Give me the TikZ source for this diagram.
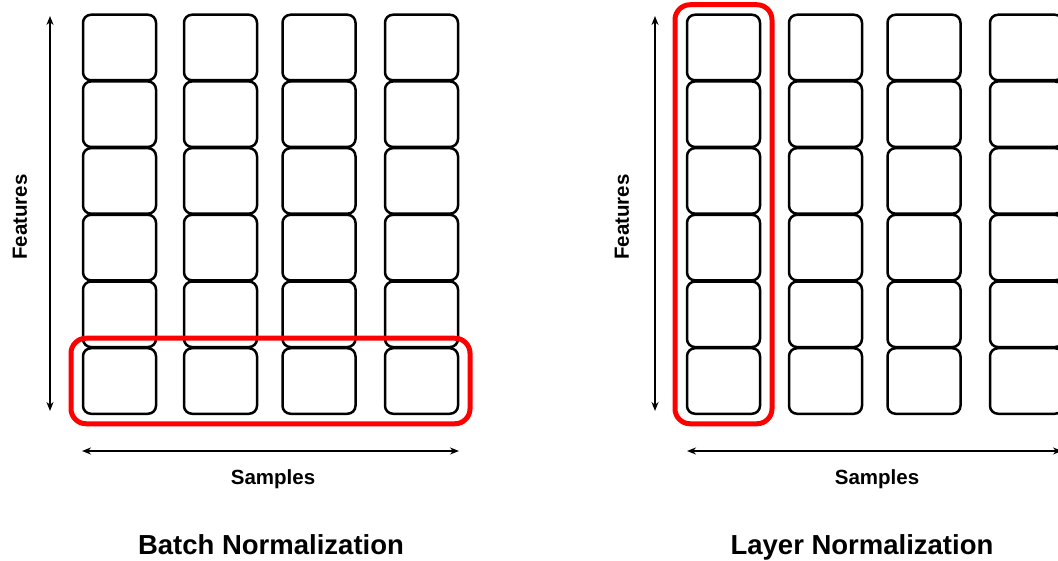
\documentclass[tikz,border=0pt]{standalone}
\usepackage{fontspec}
\setmainfont{Liberation Sans}
\usetikzlibrary{arrows.meta,fit}
\tikzset{
  cell/.style={draw, line width=2.5pt, rounded corners=8pt,
    minimum width=73pt, minimum height=65.5pt, inner sep=0pt, outer sep=0pt},
  redbox/.style={draw=red, line width=5pt, rounded corners=15pt,
    inner xsep=12pt, inner ysep=10pt},
  axis/.style={line width=2pt, {Stealth[length=9pt,width=7pt]}-{Stealth[length=9pt,width=7pt]}},
  lbl/.style={font=\bfseries\fontsize{20.5}{24}\selectfont},
  title/.style={font=\bfseries\fontsize{27.5}{31}\selectfont, anchor=base}
}
\begin{document}
\begin{tikzpicture}[x=1pt,y=-1pt]
  \useasboundingbox (0,0) rectangle (1058,561);
  \clip (0,0) rectangle (1058,561);
  % batch normalization
  \foreach \c/\cx in {1/119.5,2/220.5,3/319,4/421.5}
    \foreach \r in {1,...,6}
      \node[cell] (b\r\c) at (\cx,{47.5+66.7*(\r-1)}) {};
  \node[redbox, fit=(b61)(b64)] (bsel) {};
  \coordinate (bftop) at (50,16);
  \coordinate (bfbot) at (50,411);
  \coordinate (bsl) at (82,451);
  \coordinate (bsr) at (459,451);
  \draw[axis] (bftop) -- (bfbot);
  \draw[axis] (bsl) -- (bsr);
  \node[lbl, rotate=90] (bfeat) at (20,217) {Features};
  \node[lbl, anchor=base] (bsamp) at (273,484) {Samples};
  \node[title] (btitle) at (271,554) {Batch Normalization};
  % layer normalization
  \foreach \c/\cx in {1/723.5,2/825.5,3/924,4/1026.5}
    \foreach \r in {1,...,6}
      \node[cell] (l\r\c) at (\cx,{47.5+66.7*(\r-1)}) {};
  \node[redbox, fit=(l11)(l61)] (lsel) {};
  \coordinate (lftop) at (655,16);
  \coordinate (lfbot) at (655,411);
  \coordinate (lsl) at (687,451);
  \coordinate (lsr) at (1062,451);
  \draw[axis] (lftop) -- (lfbot);
  \draw[axis] (lsl) -- (lsr);
  \node[lbl, rotate=90] (lfeat) at (622,217) {Features};
  \node[lbl, anchor=base] (lsamp) at (877,484) {Samples};
  \node[title] (ltitle) at (862,554) {Layer Normalization};
\end{tikzpicture}
\end{document}
